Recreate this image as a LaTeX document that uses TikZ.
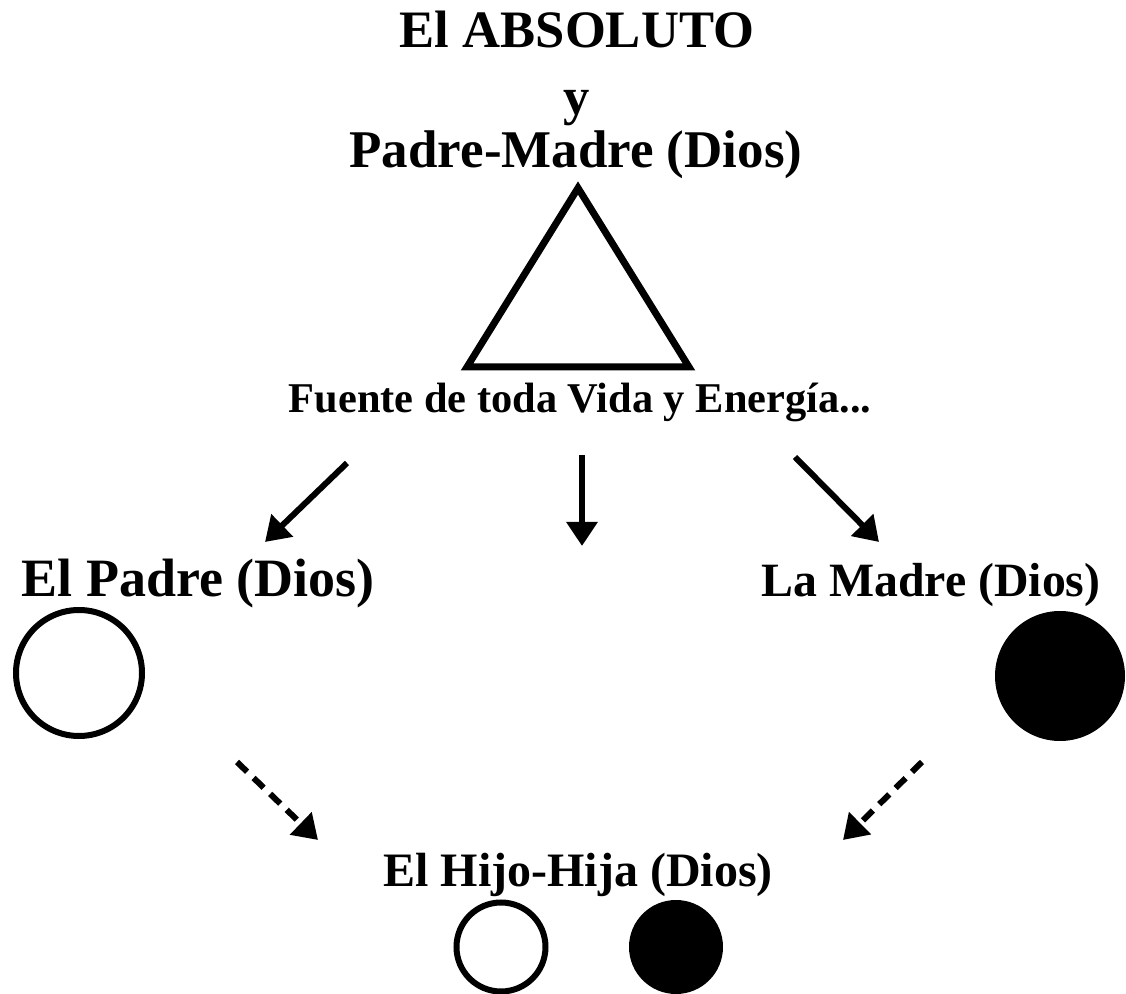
\documentclass[tikz,border=0pt]{standalone}
\usepackage{fontspec}
\setmainfont{Liberation Serif}
\usetikzlibrary{arrows.meta}

\tikzset{
  rotulo/.style={anchor=base, inner sep=0pt, font=\bfseries\fontsize{#1}{#1}\selectfont},
  flecha/.style={line width=3pt, -{Triangle[length=12pt,width=15pt]}},
  flechadis/.style={flecha, dash pattern=on 7pt off 4.5pt},
  blanco/.style={circle, draw, line width=3pt, inner sep=0pt, minimum size=#1},
  negro/.style={circle, fill, inner sep=0pt, minimum size=#1}
}

\begin{document}
\begin{tikzpicture}[x=0.5pt,y=-0.5pt]
    \useasboundingbox (0,0) rectangle (1126,994);

    % Titulo
    \node[rotulo=26.3pt] (absoluto) at (577,48) {El ABSOLUTO};
    \node[rotulo=26.3pt] (y) at (577,115) {y};
    \node[rotulo=26.5pt] (padremadre) at (576,168) {Padre-Madre (Dios)};

    % Triangulo
    \coordinate (cima) at (578,188);
    \coordinate (izq) at (467,367);
    \coordinate (der) at (689,367);
    \draw[line width=3.5pt] (cima) -- (izq) -- (der) -- cycle;

    \node[rotulo=21.2pt] (fuente) at (580,413) {Fuente de toda Vida y Energía...};

    % Flechas desde la Fuente
    \coordinate (s1) at (347,463);
    \coordinate (t1) at (265,542);
    \coordinate (s2) at (582,455);
    \coordinate (t2) at (582,546);
    \coordinate (s3) at (795,457);
    \coordinate (t3) at (879,542);
    \draw[flecha] (s1) -- (t1);
    \draw[flecha] (s2) -- (t2);
    \draw[flecha] (s3) -- (t3);

    % Padre y Madre
    \node[rotulo=27pt] (elpadre) at (198,597) {El Padre (Dios)};
    \node[rotulo=23.9pt] (lamadre) at (931,597) {La Madre (Dios)};
    \node[blanco=126pt/2] (padre) at (79,673) {};
    \node[negro=130pt/2] (madre) at (1060,676) {};

    % Flechas hacia el Hijo-Hija
    \coordinate (s4) at (237,762);
    \coordinate (t4) at (318,840);
    \coordinate (s5) at (922,762);
    \coordinate (t5) at (843,840);
    \draw[flechadis] (s4) -- (t4);
    \draw[flechadis] (s5) -- (t5);

    % Hijo-Hija
    \node[rotulo=24pt] (hijohija) at (578,886) {El Hijo-Hija (Dios)};
    \node[blanco=89pt/2] (hijo) at (501,947) {};
    \node[negro=94pt/2] (hija) at (676,947) {};
\end{tikzpicture}
\end{document}
